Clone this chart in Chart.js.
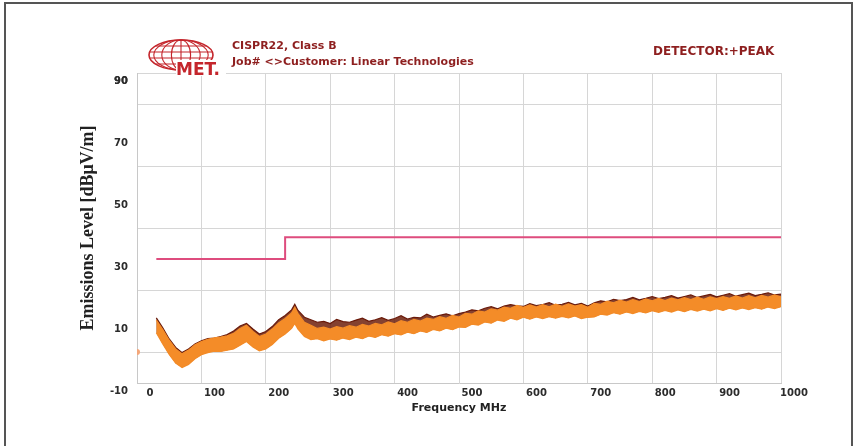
<!DOCTYPE html>
<html>
<head>
<meta charset="utf-8">
<script src="https://cdn.jsdelivr.net/npm/chart.js@4"></script>
<style>
html,body{margin:0;padding:0;background:#fff;}
#wrap{width:857px;height:446px;position:relative;}
</style>
</head>
<body>
<div id="wrap"><canvas id="c" width="857" height="446"></canvas></div>
<script>
// ---- data ----
const freqMHz = [30,40,50,60,70,80,90,100,110,120,130,140,150,160,170,180,190,200,210,220,230,240,245,250,260,
  270,280,290,300,310,320,330,340,350,360,370,380,390,400,410,420,430,440,450,460,470,480,490,500,510,520,
  530,540,550,560,570,580,590,600,610,620,630,640,650,660,670,680,690,700,710,720,730,740,750,760,
  770,780,790,800,810,820,830,840,850,860,870,880,890,900,910,920,930,940,950,960,970,980,990,1000];
// orange band: upper and lower edges (dBuV/m)
const bandUpper = [10.3,7.2,3.8,1.0,-0.6,0.6,2.3,3.4,4.1,4.6,4.8,5.2,6.0,7.6,8.6,6.6,5.0,5.8,7.4,9.4,10.8,12.6,14.4,12.4,9.6,
  8.6,7.6,8.0,7.4,8.2,7.7,8.5,8.0,8.9,8.4,9.2,8.8,9.7,9.1,10.1,9.6,10.5,10.0,10.9,10.5,11.4,10.9,11.8,11.3,12.5,12.2,
  13.3,12.9,13.9,13.5,14.5,14.1,15.0,14.4,15.2,14.5,15.3,14.6,15.4,14.7,15.5,14.8,15.3,14.4,15.7,15.4,16.4,15.9,16.7,16.1,
  16.9,16.3,17.1,16.5,17.3,16.6,17.4,16.8,17.5,16.9,17.7,17.0,17.8,17.2,17.9,17.3,18.1,17.4,18.2,17.5,18.3,17.7,18.4,17.8];
const bandLower = [6.2,2.6,-0.8,-3.6,-5.0,-4.0,-2.2,-0.9,-0.2,0.3,0.2,0.6,1.0,2.2,3.4,1.6,0.4,1.0,2.4,4.4,5.8,7.6,9.2,7.4,5.0,
  4.0,4.3,3.6,4.2,3.8,4.5,4.0,4.8,4.3,5.2,4.7,5.6,5.1,5.9,5.5,6.4,5.9,6.8,6.3,7.3,6.8,7.7,7.2,8.1,7.9,9.0,
  8.7,9.7,9.3,10.3,9.9,10.9,10.4,11.2,10.6,11.3,10.8,11.4,10.9,11.5,11.0,11.6,10.8,11.2,11.3,12.2,11.9,12.7,12.2,12.9,
  12.4,13.1,12.6,13.3,12.8,13.4,12.9,13.6,13.0,13.7,13.2,13.8,13.3,14.0,13.4,14.1,13.6,14.2,13.7,14.3,13.8,14.5,14.0,14.6];
// dark red peak trace
const peakTrace = [11.0,7.8,4.2,1.5,-0.2,1.0,2.6,3.6,4.3,4.5,5.0,5.6,6.8,8.4,9.2,7.4,5.8,6.6,8.2,10.4,11.8,13.6,15.4,13.4,11.2,
  10.4,9.6,9.9,9.2,10.5,9.8,9.6,10.3,10.9,9.9,10.4,11.1,10.2,10.8,11.7,10.6,11.2,11.0,12.2,11.3,11.8,12.3,11.7,12.4,12.9,13.6,
  13.3,14.1,14.6,13.9,14.8,15.3,14.9,14.7,15.6,15.0,15.3,15.9,15.1,15.4,16.0,15.2,15.7,14.8,15.9,16.5,16.2,17.0,16.6,16.9,
  17.6,16.8,17.3,17.9,17.2,17.6,18.2,17.4,17.9,18.4,17.6,18.1,18.6,17.8,18.3,18.8,18.0,18.5,19.0,18.2,18.6,19.1,18.4,18.7];
// limit line (CISPR22 Class B)
const limitFreq = [30,230,230,1000];
const limitLevel = [30,30,37,37];
// marker at the origin
const markerFreq = [0];
const markerLevel = [0];
// axis settings
const xTicks = [0,100,200,300,400,500,600,700,800,900,1000];
const yLabelValues = [-10,10,30,50,70,90];
const yGridValues = [0,20,40,60,80,90];

const pts = (xs, ys) => xs.map((x, i) => ({x: x, y: ys[i]}));

const ORANGE = '#f48c28';
const MAROON = '#6a1a0a';
const LIMIT = '#de4c7e';
const RED = '#c4262c';
const HEAD = '#8e1f1f';

const decor = {
  id: 'decor',
  beforeDraw(chart) {
    const ctx = chart.ctx;
    ctx.save();
    ctx.fillStyle = '#fff';
    ctx.fillRect(0, 0, chart.width, chart.height);
    ctx.strokeStyle = '#555';
    ctx.lineWidth = 2;
    ctx.beginPath();
    ctx.moveTo(5, 447); ctx.lineTo(5, 3); ctx.lineTo(852, 3); ctx.lineTo(852, 447);
    ctx.stroke();
    ctx.restore();
  },
  afterDraw(chart) {
    const ctx = chart.ctx;
    ctx.save();
    // globe logo
    const cx = 181, cy = 55, rx = 32, ry = 15;
    ctx.strokeStyle = RED;
    ctx.lineWidth = 1.6;
    ctx.beginPath(); ctx.ellipse(cx, cy, rx, ry, 0, 0, Math.PI * 2); ctx.stroke();
    ctx.lineWidth = 1.1;
    [-0.6, -0.2, 0.2, 0.6].forEach(f => {
      const yy = cy + f * ry;
      const half = rx * Math.sqrt(1 - f * f);
      ctx.beginPath(); ctx.moveTo(cx - half, yy); ctx.lineTo(cx + half, yy); ctx.stroke();
    });
    [0.3, 0.6, 0.85].forEach(f => {
      ctx.beginPath(); ctx.ellipse(cx, cy, rx * f, ry, 0, 0, Math.PI * 2); ctx.stroke();
    });
    ctx.beginPath(); ctx.moveTo(cx, cy - ry); ctx.lineTo(cx, cy + ry); ctx.stroke();
    ctx.fillStyle = '#fff';
    ctx.fillRect(176, 60, 50, 16);
    ctx.fillStyle = RED;
    ctx.font = 'bold 17px "DejaVu Sans"';
    ctx.textBaseline = 'alphabetic';
    ctx.fillText('MET.', 176, 75);
    // header texts
    ctx.fillStyle = HEAD;
    ctx.font = 'bold 11px "DejaVu Sans"';
    ctx.textBaseline = 'middle';
    ctx.fillText('CISPR22, Class B', 232, 46);
    ctx.fillText('Job# <>Customer: Linear Technologies', 232, 62);
    ctx.font = 'bold 12px "DejaVu Sans"';
    ctx.fillText('DETECTOR:+PEAK', 653, 52);
    ctx.restore();
  }
};

new Chart(document.getElementById('c'), {
  type: 'scatter',
  data: {
    datasets: [
      {label: 'Limit', data: pts(limitFreq, limitLevel), showLine: true, borderColor: LIMIT, borderWidth: 2, pointRadius: 0, order: 0},
      {label: 'Lower', data: pts(freqMHz, bandLower), showLine: true, borderColor: ORANGE, borderWidth: 1.2, pointRadius: 0, order: 1, fill: false},
      {label: 'Upper', data: pts(freqMHz, bandUpper), showLine: true, borderColor: ORANGE, borderWidth: 1.2, pointRadius: 0, order: 1, fill: '-1', backgroundColor: ORANGE},
      {label: 'Peak', data: pts(freqMHz, peakTrace), showLine: true, borderColor: MAROON, borderWidth: 1.2, pointRadius: 0, order: 3,
        fill: {target: 1}, backgroundColor: 'rgba(110,32,12,0.85)'},
      {label: 'Marker', data: pts(markerFreq, markerLevel), showLine: false, pointRadius: 3, pointBackgroundColor: '#f4a77a', pointBorderWidth: 0, order: 0}
    ]
  },
  options: {
    responsive: false,
    animation: false,
    layout: {padding: {left: 78, right: 76, top: 73, bottom: 31}},
    plugins: {legend: {display: false}, tooltip: {enabled: false}},
    scales: {
      x: {
        type: 'linear', min: 0, max: 1000,
        afterBuildTicks(scale) { scale.ticks = xTicks.map(v => ({value: v})); },
        afterFit(scale) { scale.height = 32; },
        grid: {color: '#d6d6d6', lineWidth: 1, drawTicks: false},
        border: {color: '#c8c8c8'},
        ticks: {padding: 4, labelOffset: 13, color: '#2b2b2b', font: {family: 'DejaVu Sans', weight: 'bold', size: 10},
          callback: v => String(v)},
        title: {display: true, text: 'Frequency MHz', color: '#222', padding: 0, font: {family: 'DejaVu Sans', weight: 'bold', size: 11}}
      },
      y: {
        min: -10, max: 90,
        afterBuildTicks(scale) {
          const all = yLabelValues.concat(yGridValues).sort((a, b) => a - b);
          scale.ticks = all.map(v => ({value: v}));
        },
        afterFit(scale) { scale.width = 59; },
        grid: {
          drawTicks: false, lineWidth: 1,
          color: c => (yGridValues.includes(c.tick.value) ? '#d6d6d6' : 'rgba(0,0,0,0)')
        },
        border: {color: '#c8c8c8'},
        ticks: {
          padding: 9, labelOffset: 8, color: '#2b2b2b',
          font: {family: 'DejaVu Sans', weight: 'bold', size: 10},
          callback: v => (yLabelValues.includes(v) ? String(v) : '')
        },
        title: {display: true, text: 'Emissions Level [dBμV/m]', color: '#222', padding: 0, font: {family: 'Liberation Serif', weight: 'bold', size: 18}}
      }
    }
  },
  plugins: [decor]
});
</script>
</body>
</html>
